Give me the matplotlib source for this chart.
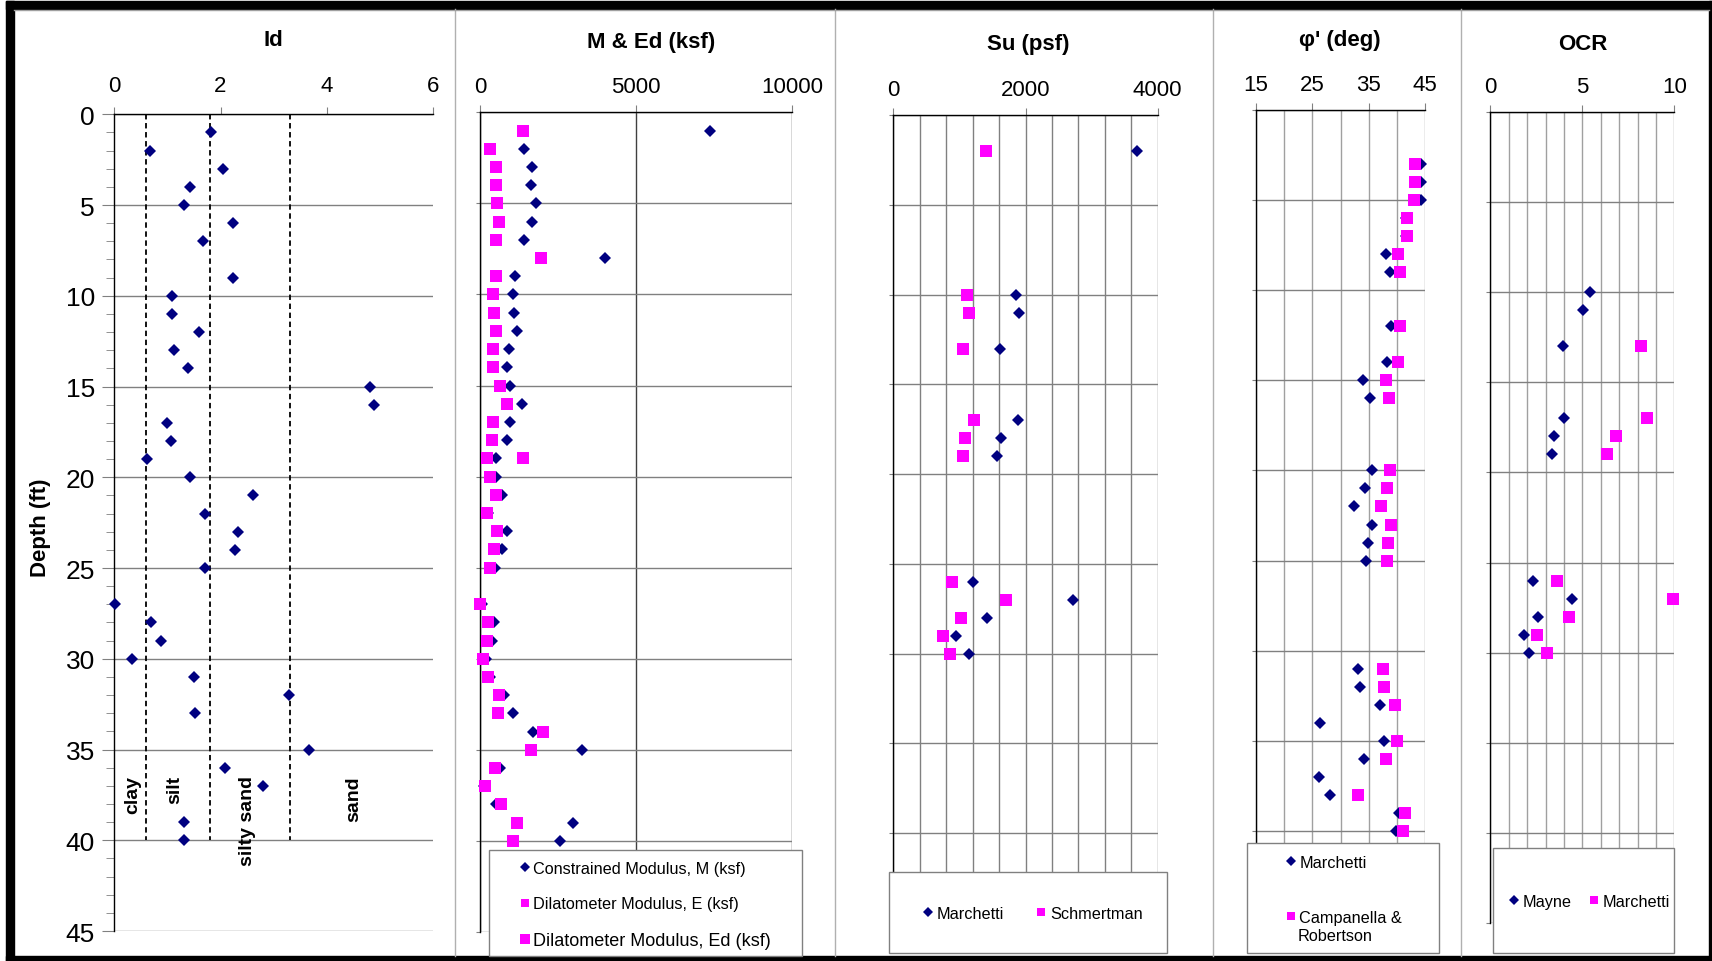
import matplotlib.pyplot as plt
from matplotlib.lines import Line2D
from matplotlib.patches import Rectangle

plt.rcParams['font.family'] = ['Liberation Sans', 'DejaVu Sans']

W, H = 1712, 962
NAVY = '#000080'
MAGENTA = '#FF00FF'
GRID = '#808080'

# ---- Id profile
id_depth = [1, 2, 3, 4, 5, 6, 7, 9, 10, 11, 12, 13, 14, 15, 16, 17, 18, 19, 20,
            21, 22, 23, 24, 25, 27, 28, 29, 30, 31, 32, 33, 35, 36, 37, 39, 40]
id_val = [1.82, 0.68, 2.04, 1.43, 1.32, 2.23, 1.67, 2.24, 1.09, 1.09, 1.60, 1.13,
          1.39, 4.81, 4.88, 1.00, 1.06, 0.62, 1.42, 2.62, 1.71, 2.33, 2.28, 1.70,
          0.02, 0.69, 0.88, 0.33, 1.50, 3.29, 1.51, 3.67, 2.08, 2.80, 1.31, 1.32]
id_bounds = [0.6, 1.8, 3.3]
soil_names = ['clay', 'silt', 'silty sand', 'sand']
soil_x = [0.34, 1.14, 2.51, 4.5]

# ---- moduli (ksf)
mod_depth = [1, 2, 3, 4, 5, 6, 7, 8, 9, 10, 11, 12, 13, 14, 15, 16, 17, 18, 19, 20,
             21, 22, 23, 24, 25, 27, 28, 29, 30, 31, 32, 33, 34, 35, 36, 37, 38, 39, 40]
M_ksf = [7350, 1400, 1667, 1635, 1774, 1656, 1410, 4006, 1111, 1058, 1079, 1165,
         919, 844, 940, 1335, 940, 844, 502, 500, 684, 256, 865, 684, 470,
         43, 449, 363, 182, 310, 769, 1036, 1699, 3259, 630, 120, 502, 2970, 2564]
Ed_ksf = [1357, 321, 513, 491, 545, 598, 513, 1944, 502, 417, 427, 513,
          406, 417, 641, 855, 417, 385, 224, 310, 491, 203, 523, 449, 321,
          0, 246, 224, 85, 256, 598, 577, 2019, 1624, 481, 160, 673, 1165, 1058]
E_depth = [19]
E_ksf = [1357]

# ---- undrained strength (psf)
su_depth = [2, 10, 11, 13, 17, 18, 19, 26, 27, 28, 29, 30]
su_marchetti = [3692, 1861, 1897, 1619, 1887, 1629, 1574, 1200, 2714, 1422, 953, 1140]
su_schmertman = [1402, 1115, 1150, 1049, 1216, 1084, 1059, 883, 1710, 1019, 752, 863]

# ---- friction angle (deg)
phi_m_depth = [3, 4, 5, 6, 7, 8, 9, 12, 14, 15, 16, 20, 21, 22, 23, 24, 25,
               31, 32, 33, 34, 35, 36, 37, 38, 39, 40]
phi_marchetti = [44.2, 44.3, 44.2, 41.5, 41.5, 38.1, 38.7, 39.0, 38.3, 34.0, 35.2,
                 35.5, 34.4, 32.4, 35.6, 34.8, 34.5, 33.1, 33.4, 37.0, 26.4, 37.7,
                 34.1, 26.2, 28.2, 40.4, 39.8]
phi_cr_depth = [3, 4, 5, 6, 7, 8, 9, 12, 14, 15, 16, 20, 21, 22, 23, 24, 25,
                31, 32, 33, 35, 36, 38, 39, 40]
phi_cr = [43.1, 43.2, 43.0, 41.8, 41.8, 40.2, 40.5, 40.6, 40.2, 38.0, 38.6, 38.8,
          38.3, 37.2, 38.9, 38.4, 38.3, 37.5, 37.6, 39.6, 40.0, 38.1, 33.0, 41.4, 41.1]

# ---- OCR
ocr_m_depth = [10, 11, 13, 17, 18, 19, 26, 27, 28, 29, 30]
ocr_mayne = [5.40, 5.05, 3.93, 4.02, 3.48, 3.33, 2.34, 4.42, 2.57, 1.83, 2.08]
ocr_c_depth = [13, 17, 18, 19, 26, 27, 28, 29, 30]
ocr_marchetti = [8.19, 8.51, 6.85, 6.32, 3.64, 9.91, 4.29, 2.54, 3.08]

depth_ticks = list(range(0, 50, 5))

fig = plt.figure(figsize=(W / 100, H / 100), dpi=100)

# background layer in pixel coordinates: outer frame and panel separators
bg = fig.add_axes([0, 0, 1, 1], zorder=-1)
bg.set_xlim(0, W)
bg.set_ylim(H, 0)
bg.axis('off')
for x in [455, 835, 1213, 1461]:
    bg.plot([x, x], [10, 957], color='#b0b0b0', lw=1)
bg.plot([14, 1709], [10.5, 10.5], color='#a0a0a0', lw=1)
bg.add_patch(Rectangle((6, 2), W, 8, color='black'))
bg.add_patch(Rectangle((6, 2), 8, H, color='black'))
bg.add_patch(Rectangle((6, 957), W, 6, color='black'))
bg.add_patch(Rectangle((1709, 2), 4, H, color='black'))


def panel(x0, y0, x1, y1, pad=6):
    ax = fig.add_axes([x0 / W, 1 - y1 / H, (x1 - x0) / W, (y1 - y0) / H])
    ax.set_ylim(45, 0)
    ax.set_yticks(depth_ticks)
    ax.xaxis.tick_top()
    ax.tick_params(axis='x', which='major', direction='out', length=5,
                   color=GRID, labelsize=16, pad=pad)
    ax.tick_params(axis='x', which='minor', length=0)
    ax.tick_params(axis='y', which='major', direction='out', length=3,
                   color=GRID, labelleft=False)
    for s in ['right', 'bottom']:
        ax.spines[s].set_visible(False)
    for s in ['top', 'left']:
        ax.spines[s].set_color('black')
        ax.spines[s].set_linewidth(1)
    ax.grid(axis='y', which='major', color=GRID, lw=1)
    ax.set_axisbelow(True)
    return ax


def diamonds(ax, x, y):
    return ax.plot(x, y, 'D', color=NAVY, ms=6.0, mew=0, ls='none',
                   clip_on=False, zorder=3)[0]


def squares(ax, x, y):
    return ax.plot(x, y, 's', color=MAGENTA, ms=8.0, mew=0, ls='none',
                   clip_on=False, zorder=4)[0]


def title(x, y, s):
    fig.text(x / W, 1 - y / H, s, ha='center', va='center',
             fontsize=16, fontweight='bold')


# ---- Id
ax1 = panel(114.3, 115.3, 433, 932, pad=8)
ax1.set_xlim(0, 6)
ax1.set_xticks([0, 2, 4, 6])
ax1.set_yticks(range(0, 46), minor=True)
ax1.tick_params(axis='y', which='major', length=9, labelleft=True,
                labelsize=19, pad=5)
ax1.tick_params(axis='y', which='minor', direction='out', length=6, color=GRID)
ax1.vlines(id_bounds, 0, 40, colors='black', linestyles=(0, (3, 2)), lw=1.3)
diamonds(ax1, id_val, id_depth)
for name, x in zip(soil_names, soil_x):
    ax1.text(x, 36.4, name, rotation=90, ha='center', va='top',
             fontsize=14, fontweight='bold')
ax1.set_ylabel('Depth (ft)', fontsize=16, fontweight='bold')
ax1.yaxis.set_label_coords(-0.20, 0.495)
title(273, 40, 'Id')

# ---- M & Ed
ax2 = panel(480.3, 113.3, 792.3, 933)
ax2.set_xlim(0, 10000)
ax2.set_xticks([0, 5000, 10000])
ax2.grid(axis='x', which='major', color='#404040', lw=1)
diamonds(ax2, M_ksf, mod_depth)
squares(ax2, Ed_ksf, mod_depth)
squares(ax2, E_ksf, E_depth)
title(651, 42.5, 'M & Ed (ksf)')

# ---- Su
ax3 = panel(893.3, 116.3, 1157.7, 923.6)
ax3.set_xlim(0, 4000)
ax3.set_xticks([0, 2000, 4000])
ax3.set_xticks(range(0, 4001, 400), minor=True)
ax3.grid(axis='x', which='both', color=GRID, lw=1)
diamonds(ax3, su_marchetti, su_depth)
squares(ax3, su_schmertman, su_depth)
title(1028, 44.5, 'Su (psf)')

# ---- phi'
ax4 = panel(1256, 111, 1425.3, 922)
ax4.set_xlim(15, 45)
ax4.set_xticks([15, 25, 35, 45])
ax4.set_xticks(range(15, 46, 5), minor=True)
ax4.grid(axis='x', which='both', color='#a0a0a0', lw=1)
diamonds(ax4, phi_marchetti, phi_m_depth)
squares(ax4, phi_cr, phi_cr_depth)
title(1340, 40.5, "φ' (deg)")

# ---- OCR
ax5 = panel(1490.3, 113.3, 1674.3, 923.7)
ax5.set_xlim(0, 10)
ax5.set_xticks([0, 5, 10])
ax5.set_xticks(range(0, 11), minor=True)
ax5.grid(axis='x', which='both', color='#a0a0a0', lw=1)
diamonds(ax5, ocr_mayne, ocr_m_depth)
squares(ax5, ocr_marchetti, ocr_c_depth)
title(1583, 45, 'OCR')

# legend boxes drawn above the plot areas
top = fig.add_axes([0, 0, 1, 1], zorder=3)
top.set_xlim(0, W)
top.set_ylim(H, 0)
top.axis('off')
top.patch.set_alpha(0)
for x0, y0, x1, y1 in [(489.3, 851, 802.3, 956.5), (889.3, 873.3, 1167.3, 954),
                       (1246.7, 844.3, 1438.7, 954), (1493.3, 849.3, 1674.3, 954)]:
    top.add_patch(Rectangle((x0, y0), x1 - x0, y1 - y0, facecolor='white',
                            edgecolor=GRID, lw=1))
top.text(1298, 937, 'Robertson', fontsize=11.7, ha='left', va='center')


def diamond_key():
    return Line2D([], [], marker='D', color=NAVY, ms=4.6, mew=0, ls='none')


def square_key(ms=6.3):
    return Line2D([], [], marker='s', color=MAGENTA, ms=ms, mew=0, ls='none')


legend_kw = dict(frameon=False, borderpad=0, borderaxespad=0, loc='upper left',
                 handlelength=0.8, handletextpad=0.15, fontsize=11.7)

leg2 = fig.legend([diamond_key(), square_key(), square_key(7.8)],
                  ['Constrained Modulus, M (ksf)', 'Dilatometer Modulus, E (ksf)',
                   'Dilatometer Modulus, Ed (ksf)'],
                  bbox_to_anchor=(518 / W, 1 - 862 / H), labelspacing=1.25,
                  **legend_kw)
leg2.get_texts()[2].set_fontsize(13)

fig.legend([diamond_key(), square_key()], ['Marchetti', 'Schmertman'],
           bbox_to_anchor=(921 / W, 1 - 907 / H), ncol=2, columnspacing=1.9,
           **legend_kw)

fig.legend([diamond_key(), square_key()], ['Marchetti', 'Campanella &'],
           bbox_to_anchor=(1284 / W, 1 - 856 / H), labelspacing=2.45,
           **legend_kw)

fig.legend([diamond_key(), square_key()], ['Mayne', 'Marchetti'],
           bbox_to_anchor=(1507 / W, 1 - 895 / H), ncol=2, columnspacing=1.0,
           **legend_kw)

fig.savefig('out.png', dpi=100, facecolor='white')
